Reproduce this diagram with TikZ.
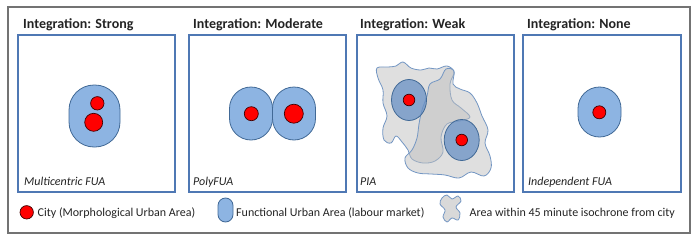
\documentclass[tikz,border=0pt]{standalone}
\usepackage{fontspec}
\setmainfont{Carlito}
\usetikzlibrary{positioning}
\definecolor{fuablue}{RGB}{141,180,226}
\definecolor{fuaedge}{RGB}{65,105,150}
\definecolor{panelblue}{RGB}{79,120,180}
\definecolor{isoedge}{RGB}{115,150,195}
\definecolor{piablue}{RGB}{105,145,198}
\definecolor{textgray}{RGB}{35,35,35}
\tikzset{
  panel/.style={draw=panelblue, line width=1.3pt},
  fua/.style={fill=fuablue, draw=fuaedge, line width=0.8pt},
  piafua/.style={fill=piablue, fill opacity=0.75, draw=fuaedge, line width=0.8pt},
  city/.style={fill=red, draw=black!75!red, line width=0.7pt},
  iso/.style={fill=black!25, fill opacity=0.5, draw=isoedge, line width=0.8pt},
  paneltitle/.style={font=\fontsize{14}{16}\selectfont\bfseries, text=textgray, anchor=base west, inner sep=0pt},
  panellabel/.style={font=\fontsize{12}{14}\selectfont\itshape, text=textgray, anchor=base west, inner sep=0pt},
  legendtext/.style={font=\fontsize{12}{14}\selectfont, text=textgray, anchor=base west, inner sep=0pt}
}

\begin{document}
\begin{tikzpicture}[x=1pt, y=-1pt]
    \useasboundingbox (0,0) rectangle (700,241);
    % outer frame
    \draw[black!55, line width=1.5pt] (8,7) rectangle (690,233);

    % Panel 1 : Strong
    \node[paneltitle] (strong) at (23,28) {Integration: Strong};
    \draw[panel] (18,35) rectangle (175,192);
    \draw[fua, rounded corners=25pt] (69,85) rectangle (120,147);
    \draw[city] (97.3,103.3) circle (6.7);
    \draw[city] (93.7,122.3) circle (9);
    \node[panellabel] (multi) at (24,185) {Multicentric FUA};

    % Panel 2 : Moderate
    \node[paneltitle] (moderate) at (193,28) {Integration: Moderate};
    \draw[panel] (189,35) rectangle (346,192);
    \draw[fua, rounded corners=21.5pt] (229.5,87) rectangle (272.5,140);
    \draw[fua, rounded corners=21.5pt] (272.5,87) rectangle (315.5,140);
    \draw[city] (251.3,113.7) circle (7);
    \draw[city] (293.8,113.7) circle (9.5);
    \node[panellabel] (poly) at (193,185) {PolyFUA};

    % Panel 3 : Weak
    \node[paneltitle] (weak) at (360,28) {Integration: Weak};
    \draw[panel] (357,35) rectangle (514,192);
    \draw[iso] plot[smooth cycle, tension=0.6] coordinates {
        (377,68) (388,67) (396,66) (403,62) (411,68) (421,70) (429,68) (437,69)
        (447,66) (454,72) (450,84) (452,100) (461,108) (470,117) (460,121)
        (447,124) (441,137) (443,152) (435,161) (423,163) (412,159) (408,150)
        (402,142) (396,136) (391,143) (384,140) (383,128) (387,116) (383,103)
        (383,90) (378,78)};
    \draw[iso] plot[smooth cycle, tension=0.6] coordinates {
        (430,84) (440,79) (446,69) (454,71) (453,84) (460,89) (470,93)
        (477,103) (482,116) (488,130) (485,143) (490,156) (491,168)
        (484,176) (471,172) (459,178) (445,175) (431,174) (418,173)
        (408,168) (405,158) (412,150) (417,138) (419,124) (422,110) (427,96)};
    \draw[piafua] (409,100) ellipse (17.5 and 20.5);
    \draw[piafua] (461.7,140) ellipse (17.5 and 20.5);
    \draw[city] (409,100) circle (5.8);
    \draw[city] (461.7,140) circle (5.8);
    \node[panellabel] (pia) at (360,185) {PIA};

    % Panel 4 : None
    \node[paneltitle] (none) at (527,28) {Integration: None};
    \draw[panel] (523,35) rectangle (681,192);
    \draw[fua, rounded corners=21.5pt] (578,87) rectangle (621,137);
    \draw[city] (599.3,112.3) circle (6.5);
    \node[panellabel] (indep) at (528,185) {Independent FUA};

    % legend
    \draw[city] (26.7,212.3) circle (6.7);
    \node[legendtext] (citytext) at (37.5,216) {City (Morphological Urban Area)};
    \draw[fua, rounded corners=7.5pt] (218,198) rectangle (233,222);
    \node[legendtext] (fuatext) at (236,216) {Functional Urban Area (labour market)};
    \draw[iso, fill opacity=0.6] plot[smooth cycle, tension=0.6] coordinates {
        (442,198) (447,195) (452,199) (458,196) (461,201) (456,207) (460,213)
        (458,220) (452,218) (447,222) (443,217) (445,210) (440,204)};
    \node[legendtext] (isotext) at (469.5,216) {Area within 45 minute isochrone from city};
\end{tikzpicture}
\end{document}
